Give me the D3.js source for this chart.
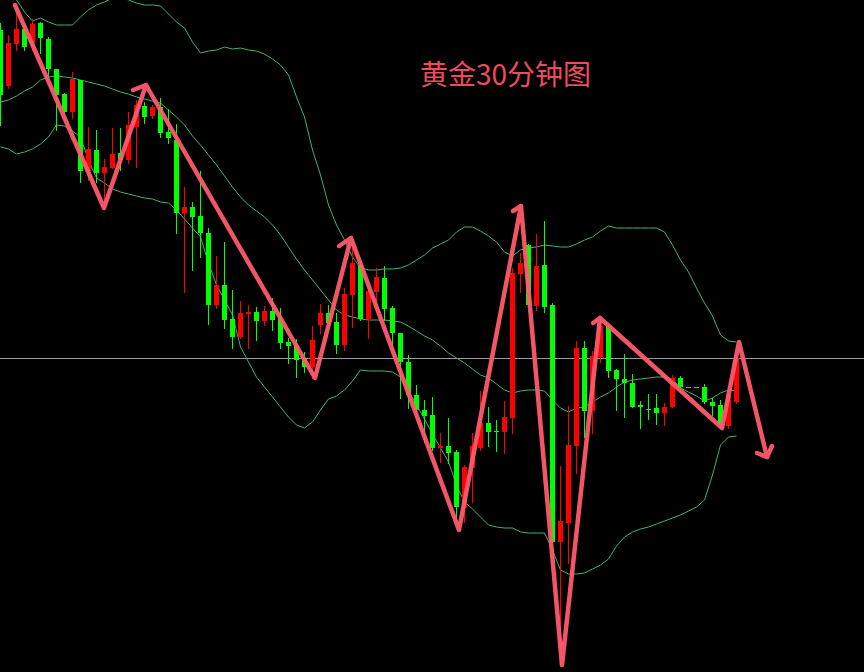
<!DOCTYPE html>
<html>
<head>
<meta charset="utf-8">
<script src="https://cdn.jsdelivr.net/npm/d3@7/dist/d3.min.js"></script>
<style>
html,body{margin:0;padding:0;background:#000;overflow:hidden;}
svg{display:block;}
</style>
</head>
<body>
<svg id="chart" width="864" height="672"></svg>
<script>
// ---- Data (gold, 30-minute bars) ----
const title = "黄金30分钟图";

const open = [1347.0,1341.4,1345.6,1347.1,1345.7,1347.7,1346.1,1343.1,1340.6,1338.8,1342.0,1332.9,1335.0,1332.7,1333.2,1334.7,1334.0,1337.3,1339.4,1338.4,1339.3,1336.8,1336.0,1328.7,1329.3,1328.4,1326.7,1319.5,1321.5,1318.1,1316.3,1318.6,1318.8,1317.9,1318.9,1318.2,1315.8,1315.5,1314.2,1313.3,1317.5,1318.7,1317.8,1315.5,1320.5,1323.5,1318.1,1320.8,1322.2,1319.2,1316.7,1313.8,1310.5,1309.0,1308.5,1305.2,1305.4,1304.8,1299.2,1303.2,1305.2,1307.7,1306.9,1306.8,1308.2,1322.6,1325.5,1319.4,1323.5,1319.5,1295.8,1297.7,1305.4,1315.2,1308.9,1314.3,1317.4,1313.0,1312.1,1311.7,1309.5,1309.1,1309.2,1308.7,1309.3,1312.2,1311.3,1311.3,1311.3,1309.8,1309.5,1307.4,1309.8];
const high = [1347.7,1346.5,1348.7,1347.5,1348.1,1347.8,1346.3,1343.1,1340.7,1342.8,1342.0,1337.3,1337.0,1334.1,1337.2,1337.2,1338.8,1340.0,1339.8,1339.5,1340.2,1339.1,1337.6,1331.3,1329.8,1332.9,1327.2,1324.4,1325.8,1321.0,1319.9,1319.5,1319.3,1319.4,1320.2,1319.2,1316.2,1316.1,1314.8,1317.4,1319.6,1319.5,1318.7,1321.2,1325.5,1323.8,1321.2,1323.2,1323.4,1319.4,1316.7,1314.5,1311.5,1310.0,1310.3,1306.7,1308.2,1305.0,1303.5,1306.7,1310.9,1309.3,1308.0,1309.9,1323.2,1324.7,1325.6,1326.6,1327.9,1319.7,1303.4,1309.4,1315.9,1315.9,1314.9,1318.2,1317.5,1313.1,1314.6,1312.6,1309.9,1310.6,1310.6,1309.7,1312.5,1312.4,1311.3,1311.3,1311.6,1310.2,1310.0,1310.7,1314.3];
const low = [1337.5,1341.2,1345.0,1345.0,1345.0,1344.7,1342.3,1337.0,1338.7,1338.2,1331.8,1332.0,1331.8,1329.7,1333.2,1333.0,1333.7,1333.3,1337.7,1338.2,1336.3,1335.7,1326.7,1320.8,1323.0,1324.3,1317.6,1319.2,1317.2,1315.2,1316.2,1315.2,1316.0,1317.5,1317.0,1315.2,1313.7,1312.3,1312.8,1312.2,1316.7,1317.3,1314.7,1315.0,1317.3,1318.0,1316.2,1320.0,1318.0,1315.0,1310.2,1309.2,1308.7,1305.8,1305.0,1303.8,1303.7,1298.0,1297.8,1299.8,1305.0,1305.4,1304.9,1304.7,1306.7,1320.8,1319.4,1319.0,1318.8,1295.8,1283.7,1293.7,1302.7,1306.3,1306.7,1313.8,1312.3,1309.0,1308.3,1309.3,1307.2,1308.1,1307.6,1307.5,1309.3,1310.8,1311.3,1311.3,1309.7,1308.5,1307.2,1307.2,1309.7];
const close = [1340.5,1345.7,1347.1,1345.3,1347.6,1346.2,1343.1,1340.5,1338.8,1342.1,1332.9,1335.1,1332.7,1333.3,1334.6,1334.0,1337.5,1339.5,1338.3,1339.3,1336.7,1336.2,1328.7,1329.3,1328.3,1326.7,1319.5,1321.5,1318.0,1316.3,1318.7,1318.8,1317.9,1318.9,1318.0,1315.7,1315.4,1314.0,1313.3,1316.0,1318.7,1317.7,1315.5,1320.6,1323.7,1318.1,1320.9,1322.3,1319.1,1316.7,1313.8,1310.5,1309.0,1308.4,1305.2,1305.4,1304.7,1299.3,1303.3,1305.4,1307.7,1306.8,1306.8,1308.3,1322.7,1323.7,1319.5,1323.4,1319.3,1295.8,1297.9,1305.5,1315.2,1308.9,1314.4,1317.4,1312.9,1312.1,1311.7,1309.3,1309.3,1309.0,1308.7,1309.3,1312.2,1311.3,1311.3,1311.3,1309.8,1309.4,1307.5,1310.5,1314.2];

// Bollinger bands
const bandUpper = [1352.0,1351.0,1350.0,1348.8,1347.9,1348.2,1347.8,1347.5,1347.5,1347.5,1348.3,1349.0,1349.5,1349.8,1350.2,1350.3,1350.0,1349.7,1349.5,1349.5,1349.4,1348.6,1347.8,1347.2,1345.8,1344.7,1344.9,1345.0,1345.3,1345.1,1345.2,1345.0,1344.9,1344.6,1344.1,1343.5,1342.5,1340.3,1338.3,1335.0,1332.5,1329.5,1327.5,1326.0,1324.3,1323.2,1323.0,1323.0,1323.1,1323.1,1323.2,1323.5,1324.0,1324.5,1325.2,1325.6,1326.0,1326.8,1327.3,1327.3,1326.9,1326.4,1325.8,1324.8,1324.4,1325.0,1325.2,1325.3,1325.5,1325.4,1325.3,1325.3,1325.6,1326.0,1326.3,1326.9,1327.4,1327.2,1327.2,1327.2,1327.2,1327.2,1327.2,1326.8,1325.5,1324.0,1322.8,1321.2,1319.7,1318.4,1316.5,1315.9,1315.8];
const bandMiddle = [1339.8,1340.0,1340.4,1340.9,1341.3,1342.0,1342.3,1342.4,1342.3,1342.2,1342.0,1341.8,1341.6,1341.4,1341.1,1340.8,1340.6,1340.3,1340.1,1339.9,1339.7,1339.0,1338.3,1337.5,1336.4,1335.5,1334.5,1333.5,1332.4,1331.3,1330.3,1329.5,1328.9,1328.3,1327.5,1326.5,1325.3,1324.1,1323.0,1322.0,1321.0,1320.0,1319.0,1318.5,1318.3,1318.1,1318.0,1318.0,1318.0,1317.9,1317.8,1317.4,1316.9,1316.4,1316.0,1315.4,1314.7,1314.2,1313.7,1313.1,1312.5,1312.2,1311.6,1311.0,1310.7,1310.9,1311.0,1311.0,1310.9,1310.0,1309.2,1308.8,1309.2,1309.3,1309.8,1310.3,1310.7,1311.3,1311.8,1312.0,1312.1,1312.2,1312.3,1312.3,1312.1,1311.2,1310.8,1310.4,1309.9,1310.2,1310.7,1311.0,1310.9];
const bandLower = [1335.3,1335.1,1334.6,1334.8,1335.1,1335.6,1336.3,1337.5,1337.4,1336.9,1336.3,1334.0,1332.2,1331.7,1331.1,1330.8,1330.6,1330.4,1330.2,1330.1,1329.8,1329.7,1329.0,1328.1,1327.2,1326.3,1323.7,1321.5,1320.0,1318.5,1315.3,1313.8,1312.3,1311.3,1310.3,1309.3,1308.3,1307.5,1307.2,1307.8,1309.0,1310.1,1310.4,1311.0,1311.9,1313.0,1312.9,1312.9,1312.9,1312.8,1312.3,1310.9,1309.5,1308.1,1306.6,1305.2,1303.8,1301.5,1299.8,1299.1,1298.3,1297.5,1297.3,1297.2,1297.2,1296.8,1296.7,1296.7,1296.7,1295.0,1293.0,1292.6,1292.6,1292.7,1293.1,1293.5,1294.1,1295.4,1296.3,1296.8,1297.1,1297.3,1297.6,1297.9,1298.2,1298.5,1298.9,1299.3,1300.0,1302.5,1305.5,1306.3,1306.4];

// Hand-drawn zigzag: [bar position, price]
const zigzag = [[1.875,1349.5],[13,1329.2],[18.25,1341.5],[39.375,1312.2],[43.875,1326.2],[57.375,1297.0],[65.125,1329.4],[70.25,1283.5],[75,1318.2],[90.25,1307.2],[92.375,1315.8],[95.875,1304.3]];
// small hook strokes at peaks and arrow head
const hooks = [
  [[18.25,1341.5],[16.625,1341.0]],
  [[43.875,1326.2],[42.375,1325.4]],
  [[65.125,1329.4],[64.125,1328.9]],
  [[75,1318.2],[74.125,1317.7]],
  [[94.625,1304.7],[95.875,1304.3],[96.5,1305.4]]
];

// ---- Drawing ----
const W = 864, H = 672;
const svg = d3.select("#chart");
svg.append("rect").attr("width", W).attr("height", H).attr("fill", "#000");

const x = d3.scaleLinear().domain([0, 108]).range([0, 864]);
const y = d3.scaleLinear().domain([1350, 1282.8]).range([0, 672]);

const bars = open.map((o, i) => ({i, o, h: high[i], l: low[i], c: close[i]}));

// current price line
const last = close[close.length - 1];
svg.append("line")
  .attr("x1", 0).attr("x2", W)
  .attr("y1", Math.round(y(last)) + 0.5).attr("y2", Math.round(y(last)) + 0.5)
  .attr("stroke", "#9a9aa6").attr("stroke-width", 1);

// bands
const bandLine = d3.line().x((d, i) => x(i) + 0.5).y(d => y(d));
const bandG = svg.append("g").attr("fill", "none").attr("stroke", "#3cb371").attr("stroke-width", 1);
[bandUpper, bandMiddle, bandLower].forEach(b => {
  bandG.append("path").attr("d", bandLine(b));
});

// candles
const cg = svg.append("g").attr("shape-rendering", "crispEdges");
const colorOf = d => d.c > d.o ? "#ff0000" : "#00ff00";
cg.selectAll("line.wick").data(bars).join("line")
  .attr("class", "wick")
  .attr("x1", d => x(d.i) + 0.5).attr("x2", d => x(d.i) + 0.5)
  .attr("y1", d => Math.round(y(d.h))).attr("y2", d => Math.round(y(d.l)) + 1)
  .attr("stroke", colorOf).attr("stroke-width", 1);
cg.selectAll("rect.body").data(bars).join("rect")
  .attr("class", "body")
  .attr("x", d => x(d.i) - 2)
  .attr("width", 5)
  .attr("y", d => Math.round(y(Math.max(d.o, d.c))))
  .attr("height", d => Math.max(1, Math.round(y(Math.min(d.o, d.c))) - Math.round(y(Math.max(d.o, d.c)))))
  .attr("fill", colorOf);

// zigzag
const zl = d3.line().x(d => x(d[0])).y(d => y(d[1]));
const zg = svg.append("g").attr("fill", "none").attr("stroke", "#ff5a6c")
  .attr("stroke-width", 4.5).attr("stroke-linecap", "round").attr("stroke-linejoin", "round")
  .attr("opacity", 0.95);
zg.append("path").attr("d", zl(zigzag));
hooks.forEach(h => zg.append("path").attr("d", zl(h)));

// title
svg.append("text")
  .attr("x", 420).attr("y", 85)
  .attr("font-family", "'Noto Sans CJK SC', 'Noto Sans', sans-serif")
  .attr("font-size", 28)
  .attr("fill", "#f04a5e")
  .text(title);
</script>
</body>
</html>
